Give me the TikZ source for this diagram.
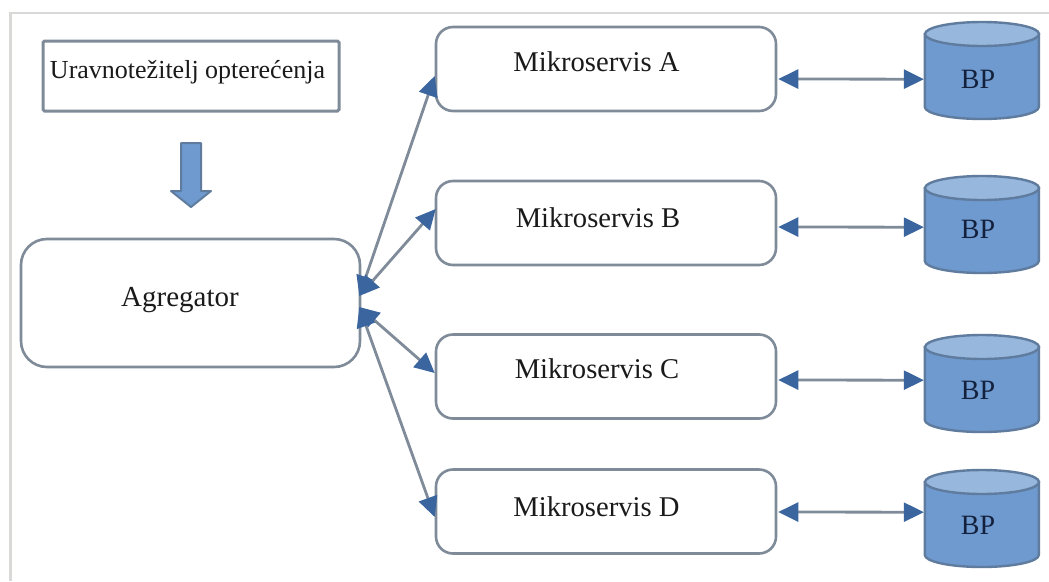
\documentclass[tikz,border=0pt]{standalone}
\usepackage{fontspec}
\setmainfont{Liberation Serif}
\usetikzlibrary{arrows.meta}
\definecolor{edgegray}{HTML}{7F8B99}
\definecolor{framegray}{HTML}{D9D9D7}
\definecolor{dbbody}{HTML}{6F9AD0}
\definecolor{dbtop}{HTML}{97B7DD}
\definecolor{dbline}{HTML}{5F7C9E}
\definecolor{tipblue}{HTML}{3A659E}
\definecolor{inktext}{HTML}{1A1A1A}
\definecolor{dbtext}{HTML}{14213D}
\tikzset{
  x=1pt,y=-1pt,
  svcbox/.style={draw=edgegray,line width=2.6pt,rounded corners=17pt,minimum width=340pt,minimum height=84pt,fill=white},
  lbl/.style={font=\fontsize{28.6}{32}\selectfont,text=inktext,inner sep=0pt},
  dblbl/.style={font=\fontsize{28}{32}\selectfont,text=dbtext,inner sep=0pt},
  dbbox/.style={minimum width=114pt,minimum height=97pt,inner sep=0pt,anchor=north},
  dbdraw/.style={draw=dbline,line width=2.4pt},
  link/.style={draw=edgegray,line width=2.8pt,{Triangle[length=20pt,width=19pt,color=tipblue]}-{Triangle[length=20pt,width=19pt,color=tipblue]}}
}
\newcommand{\dbshape}[3]{%
  \node[dbbox] (#1) at (#2,#3) {};
  \path[dbdraw,fill=dbbody] (#1.north west) ++(0,12) -- ++(0,73)
     arc[start angle=180,end angle=360,x radius=57pt,y radius=12pt] -- ++(0,-73) -- cycle;
  \path[dbdraw,fill=dbtop] (#2,#3) ++(0,12) ellipse[x radius=57pt,y radius=12pt];
}
\begin{document}
\begin{tikzpicture}
\useasboundingbox (0,0) rectangle (1049,581);
\fill[white] (0,0) rectangle (1049,581);
\draw[framegray,line width=2.6pt] (10.5,581) -- (10.5,13) -- (1049,13);

\node[draw=edgegray,line width=3pt,rounded corners=1.5pt,minimum width=296pt,minimum height=70pt,
      fill=white] (lb) at (191,76) {};
\node[font=\fontsize{26}{28}\selectfont,text=inktext,inner sep=0pt] (lbt) at (187.5,72) {Uravnotežitelj opterećenja};

\draw[draw=dbline,fill=dbbody,line width=2pt,line join=round]
  (181,143) -- (201,143) -- (201,191) -- (211,191) -- (191,207) -- (171,191) -- (181,191) -- cycle;

\node[svcbox,minimum width=339pt,minimum height=128pt,rounded corners=26pt] (ag) at (190.5,303) {};
\node[lbl,font=\fontsize{29}{32}\selectfont] (agt) at (180,300) {Agregator};

\node[svcbox] (ma) at (606,69) {};
\node[svcbox] (mb) at (606,223) {};
\node[svcbox] (mc) at (606,376.5) {};
\node[svcbox] (md) at (606,511.5) {};
\node[lbl] (mat) at (596.5,62) {Mikroservis A};
\node[lbl] (mbt) at (598,218) {Mikroservis B};
\node[lbl] (mct) at (597,369) {Mikroservis C};
\node[lbl] (mdt) at (596.5,507) {Mikroservis D};

\dbshape{da}{982}{22}
\dbshape{db}{982}{176}
\dbshape{dc}{982}{335}
\dbshape{dd}{982}{470}
\node[dblbl] (dat) at (978,79) {BP};
\node[dblbl] (dbt) at (978,229) {BP};
\node[dblbl] (dct) at (978,390) {BP};
\node[dblbl] (ddt) at (978,525) {BP};

\coordinate (agU) at ([shift={(-2,-7)}]ag.east);
\coordinate (agL) at ([shift={(-2,4)}]ag.east);

\draw[link] (agU) -- ([shift={(0,7)}]ma.west);
\draw[link] (agU) -- ([shift={(1,-14)}]mb.west);
\draw[link] (agL) -- ([shift={(0,-3.5)}]mc.west);
\draw[link] (agL) -- ([shift={(0,5.5)}]md.west);

\draw[link] ([shift={(1,10)}]ma.east) -- ([shift={(-1,8.5)}]da.west);
\draw[link] ([shift={(1,4)}]mb.east) -- ([shift={(-1,2.5)}]db.west);
\draw[link] ([shift={(1,3.5)}]mc.east) -- ([shift={(-1,-3.5)}]dc.west);
\draw[link] ([shift={(1,0.5)}]md.east) -- ([shift={(-1,-6.5)}]dd.west);
\end{tikzpicture}
\end{document}
